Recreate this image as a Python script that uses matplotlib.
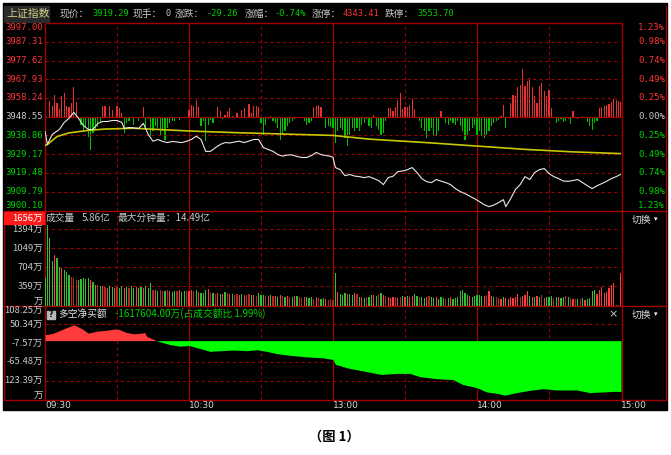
import matplotlib.pyplot as plt
from matplotlib.patches import Rectangle
from matplotlib.transforms import blended_transform_factory

plt.rcParams['font.family'] = ['Noto Sans CJK SC', 'DejaVu Sans']
MONO = ['DejaVu Sans Mono', 'Noto Sans CJK SC']

# 分钟序号: 0 = 09:30, 120 = 11:30/13:00, 240 = 15:00
price_min = [0, 1, 3, 6, 8, 10, 12, 14, 16, 18, 20, 22, 24, 26, 28, 30, 32, 33, 35, 37, 39,
             41, 43, 45, 47, 49, 51, 53, 55, 57, 59, 61, 63, 65, 67, 69, 71, 73, 75, 77, 79,
             81, 83, 85, 87, 89, 91, 93, 95, 97, 99, 101, 103, 105, 107, 109, 111, 113, 115,
             117, 119, 120, 121, 123, 125, 127, 129, 131, 133, 135, 137, 139, 141, 143, 145,
             147, 149, 151, 153, 155, 157, 159, 161, 163, 165, 167, 169, 171, 173, 175, 177,
             179, 181, 183, 185, 187, 189, 191, 192, 194, 196, 198, 200, 202, 204, 206, 208,
             210, 212, 214, 216, 218, 220, 222, 224, 226, 228, 230, 232, 234, 236, 238, 240]
price_val = [3941.1, 3934.2, 3939.4, 3942.0, 3945.6, 3947.7, 3950.8, 3947.7, 3944.0, 3942.0,
             3942.0, 3945.1, 3946.1, 3946.1, 3946.6, 3946.6, 3945.6, 3942.5, 3943.0, 3942.8,
             3942.5, 3945.1, 3939.4, 3935.9, 3936.8, 3935.8, 3935.2, 3935.8, 3935.5, 3935.2,
             3935.9, 3936.8, 3938.5, 3936.8, 3930.6, 3930.7, 3932.6, 3934.2, 3935.2, 3935.0,
             3935.5, 3935.9, 3935.2, 3936.0, 3936.8, 3936.8, 3932.6, 3931.6, 3930.7, 3929.0,
             3928.2, 3928.8, 3928.8, 3928.0, 3927.5, 3927.5, 3928.5, 3930.1, 3929.0, 3928.5,
             3928.1, 3927.5, 3922.3, 3921.2, 3918.1, 3918.7, 3917.9, 3917.6, 3917.1, 3917.6,
             3916.6, 3915.6, 3913.5, 3917.1, 3917.8, 3920.2, 3920.5, 3921.2, 3922.3, 3919.7,
             3916.6, 3915.0, 3914.5, 3916.1, 3915.3, 3914.5, 3913.5, 3911.4, 3909.9, 3908.8,
             3907.5, 3906.2, 3904.7, 3903.1, 3902.1, 3902.9, 3904.2, 3905.7, 3902.1, 3906.2,
             3910.9, 3913.5, 3917.6, 3916.1, 3919.7, 3921.2, 3921.8, 3919.2, 3917.6, 3916.6,
             3915.3, 3915.2, 3915.6, 3916.1, 3914.5, 3912.9, 3911.4, 3912.9, 3914.0, 3915.2,
             3916.6, 3917.6, 3918.9]

avg_min = [0, 1, 5, 10, 18, 25, 37, 45, 60, 80, 100, 120, 135, 160, 180, 200, 220, 240]
avg_val = [3933.7, 3934.2, 3938.3, 3940.2, 3941.5, 3942.2, 3942.6, 3942.1, 3941.2, 3940.3,
           3939.6, 3938.9, 3937.0, 3935.1, 3933.4, 3931.7, 3930.4, 3929.5]

# 红绿柱 (领先指标)
lead = [0, 0, 16, 11, 22, 14, 8, 21, 24, 11, 10, 14, 30, 15, 0, -8, -14, -10, -20, -33,
        -16, -12, -10, -5, 11, 11, 0, 11, 7, 0, 11, 9, 4, -16, -6, -4, -1, -8, -1, -4,
        0, 10, -11, -2, -19, -14, -9, -11, -18, -14, -23, -11, -6, -4, -4, -1, -3, 0, 0, 0,
        7, 12, 11, 17, 10, -9, -4, -24, -8, -3, -6, 0, 10, 6, -2, 2, 6, 9, 1, 0,
        4, 0, 7, 9, 0, 13, 4, 11, 11, 10, -6, -18, -8, -2, 1, -4, -6, -11, -23, -18,
        -14, -9, -6, -4, -2, 0, 0, 0, -4, -8, -6, -4, 10, 11, 12, 10, 0, -11, -9, -10,
        -11, -26, -14, -11, -13, -21, -29, -18, -11, -14, -11, -14, -8, -6, -2, -9, -11, 2, -9, -13,
        -18, -16, -4, 9, 9, 6, 10, 17, 24, 8, 10, 10, 12, 18, 8, 0, -4, -11, -14, -21,
        -14, -11, -18, -19, -14, 6, 0, -6, -8, -4, -6, -8, -4, -9, -14, -23, -18, -14, -11, -8,
        -18, -14, -19, -21, -18, -14, -9, -6, -4, -3, 1, 12, -11, 0, 14, 22, 21, 30, 32, 48,
        31, 36, 39, 30, 21, 14, 31, 34, 26, 21, 27, 9, 0, -6, -4, -2, -5, -4, -2, -7,
        6, 0, -2, -1, 0, 0, -5, -9, -13, -6, -4, 9, 10, 11, 12, 13, 15, 18, 17, 16,
        15]

# 成交量 (万)
volume = [510, 1470, 1240, 830, 940, 880, 720, 690, 660, 630, 560, 540, 510, 480, 480, 500, 520, 500, 520, 480,
          440, 390, 390, 360, 360, 350, 340, 360, 350, 340, 350, 330, 360, 340, 350, 340, 360, 330, 350, 340,
          350, 330, 360, 340, 420, 300, 290, 280, 300, 270, 280, 290, 270, 260, 280, 270, 290, 260, 270, 280,
          270, 290, 280, 300, 260, 250, 240, 300, 310, 250, 240, 230, 240, 220, 230, 260, 240, 220, 230, 210,
          220, 200, 230, 210, 200, 230, 200, 210, 190, 240, 200, 210, 180, 190, 200, 180, 190, 170, 200, 180,
          170, 180, 160, 170, 190, 180, 160, 150, 170, 160, 150, 170, 140, 160, 150, 130, 150, 140, 120, 130,
          110, 600, 266, 230, 210, 240, 230, 220, 210, 240, 230, 160, 170, 150, 160, 170, 200, 210, 190, 220,
          240, 200, 180, 160, 150, 170, 160, 150, 170, 180, 160, 190, 170, 180, 230, 180, 170, 160, 150, 170,
          180, 160, 150, 170, 140, 160, 150, 130, 150, 160, 140, 150, 160, 270, 300, 237, 200, 180, 170, 190,
          200, 210, 190, 180, 210, 270, 180, 160, 170, 150, 140, 160, 150, 140, 170, 150, 160, 220, 170, 180,
          200, 270, 180, 170, 160, 180, 170, 200, 150, 160, 170, 180, 150, 170, 160, 150, 170, 180, 160, 150,
          140, 130, 140, 130, 150, 120, 140, 150, 270, 300, 230, 300, 357, 237, 266, 330, 388, 420, 30, 20,
          600]
vol_color = ("ggggrggrgggdddgggggr" "ggdgrdrggrdggrgdggrg" "grgggdrgddgdrggdrggd"
             "rrdgrgggrdgdrgrgdrgd" "drgrddgrdgggdrgdrgrd" "grdgrgddrgggdrdggrdd"
             "dgrgggrggrdgrgdggrgd" "grdrrrdrdgrgrrggdggr" "dggrgggdgrgggggggrgg"
             "gggrdrrgddrgrrrrrrdr" "rrgrgrgdrgggdgrggdgd" "rdgdgrggggrrrrrrrrdd" "r")

# 多空净买额 (万)
net_min = [0, 3.5, 7, 9, 12, 14, 16, 18, 21.5, 25.7, 29, 31, 34, 37, 40, 41.5, 42.4, 45, 46.5,
           48, 52, 56, 60, 65, 68.75, 73, 78.5, 84, 88.2, 92.4, 96.5, 102, 109, 116, 120, 121,
           126, 133, 140, 146.5, 152, 156.25, 163, 170, 174, 180, 184, 188, 191.7, 196.5, 202,
           207.6, 213.2, 221.5, 227, 232.6, 238, 240]
net_val = [18, 23, 34, 40, 49, 42, 34, 23, 29, 32, 36, 34, 25, 21, 23, 25, 13, 5, 0,
           -4, -12, -17, -15, -25, -33, -31, -29, -31, -28, -33, -40, -45, -50, -53, -58, -73,
           -84, -94, -104, -101, -101, -111, -117, -120, -135, -145, -158, -162, -168, -160, -153,
           -148, -152, -152, -160, -158, -156, -157]

price_ticks = [3997.00, 3987.31, 3977.62, 3967.93, 3958.24, 3948.55,
               3938.86, 3929.17, 3919.48, 3909.79, 3900.10]
pct_labels = ['1.23%', '0.98%', '0.74%', '0.49%', '0.25%', '0.00%',
              '0.25%', '0.49%', '0.74%', '0.98%', '1.23%']
vol_ticks = [1394, 1049, 704, 359]
net_ticks = [108.25, 50.34, -7.57, -65.48, -123.39, -181.30]
net_labels = ['108.25万', '50.34万', '-7.57万', '-65.48万', '123.39万', '万']
time_ticks = [0, 60, 120, 180, 240]
time_labels = ['09:30', '10:30', '13:00', '14:00', '15:00']

RED, GREEN, GRAY = '#ff3434', '#00d000', '#c8c8c8'
FRAME = '#a00000'
DASH = (0, (3, 3))

W, H = 671, 455
fig = plt.figure(figsize=(W / 100, H / 100), dpi=100)
fig.patch.set_facecolor('white')

cv = fig.add_axes([0, 0, 1, 1], zorder=0)
cv.set_xlim(0, W)
cv.set_ylim(H, 0)
cv.axis('off')
cv.add_patch(Rectangle((3, 3), 664, 407, color='black', zorder=0))

L, R = 45, 621
P_TOP, P_BOT, V_BOT, N_BOT = 23, 210.5, 305.5, 399.5


def panel(top, bot, ylim, z=2):
    ax = fig.add_axes([L / W, 1 - bot / H, (R - L) / W, (bot - top) / H], zorder=z)
    ax.set_facecolor('none')
    ax.set_xlim(0, 240)
    ax.set_ylim(*ylim)
    ax.axis('off')
    return ax


def grid(ax, hlines):
    for v in hlines:
        ax.axhline(v, color=FRAME, lw=0.75, ls=DASH, zorder=0)
    for t in [30, 90, 150, 210]:
        ax.axvline(t, color=FRAME, lw=0.75, ls=DASH, zorder=0)
    for t in [60, 120, 180]:
        ax.axvline(t, color=FRAME, lw=0.9, zorder=0)


# 价格面板
ax_lead = panel(P_TOP, P_BOT, (-93.5, 93.5), z=2)
ax_p = panel(P_TOP, P_BOT, (price_ticks[-1], price_ticks[0]), z=3)
grid(ax_lead, [])
for v in price_ticks[1:-1]:
    if v == 3948.55:
        ax_p.axhline(v, color=FRAME, lw=0.9, zorder=0)
    else:
        ax_p.axhline(v, color=FRAME, lw=0.75, ls=DASH, zorder=0)
mins = list(range(241))
ax_lead.bar(mins, lead, width=0.42, color=['#e83030' if v > 0 else '#00c000' for v in lead], zorder=2)
ax_p.plot(avg_min, avg_val, color='#c8c800', lw=1.2, zorder=3)
ax_p.plot(price_min, price_val, color='#e8e8e8', lw=0.8, zorder=4)

# 成交量面板
ax_v = panel(P_BOT, V_BOT, (14, 1739))
grid(ax_v, vol_ticks)
cmap = {'r': '#ff3c3c', 'd': '#b02828', 'g': '#30c030'}
ax_v.bar(mins, volume, width=0.45, color=[cmap[c] for c in vol_color], zorder=2)

# 多空净买额面板
ax_n = panel(V_BOT, N_BOT, (net_ticks[-1], net_ticks[0]))
grid(ax_n, [50.34, -65.48, -123.39])
ax_n.fill_between(net_min, net_val, 0, where=[v >= 0 for v in net_val], interpolate=True,
                  color='#ff3c3c', lw=0, zorder=2)
ax_n.fill_between(net_min, net_val, 0, where=[v <= 0 for v in net_val], interpolate=True,
                  color='#00ff00', lw=0, zorder=2)

# 边框
for y, x0, x1 in [(P_TOP, L, 622), (P_BOT, 3, 667), (V_BOT, 3, 667), (N_BOT, 3, 667)]:
    cv.hlines(y, x0, x1, color=FRAME, lw=1.0, zorder=1)
cv.vlines([L, 622], P_TOP, N_BOT, color=FRAME, lw=1.0, zorder=1)
cv.vlines([3.5], P_BOT, N_BOT, color=FRAME, lw=1.0, zorder=1)
cv.vlines([665.5], 5, N_BOT, color=FRAME, lw=1.0, zorder=1)

# 坐标文字
tp = blended_transform_factory(cv.transData, ax_p.transData)
for i, (v, pl) in enumerate(zip(price_ticks, pct_labels)):
    c = RED if i < 5 else (GRAY if i == 5 else GREEN)
    va = 'top' if i == 0 else ('bottom' if i == len(price_ticks) - 1 else 'center')
    ax_p.text(43, v, f'{v:.2f}', transform=tp, ha='right', va=va, color=c,
              fontsize=6.5, family=MONO)
    ax_p.text(665, v, pl, transform=tp, ha='right', va=va, color=c, fontsize=6.5, family=MONO)

tv = blended_transform_factory(cv.transData, ax_v.transData)
for v in vol_ticks:
    ax_v.text(43, v, f'{v}万', transform=tv, ha='right', va='center', color=GRAY, fontsize=6.8)
ax_v.text(43, 14, '万', transform=tv, ha='right', va='bottom', color=GRAY, fontsize=6.8)

tn = blended_transform_factory(cv.transData, ax_n.transData)
for i, (v, lab) in enumerate(zip(net_ticks, net_labels)):
    va = 'top' if i == 0 else ('bottom' if i == len(net_ticks) - 1 else 'center')
    ax_n.text(43, v, lab, transform=tn, ha='right', va=va, color=GRAY, fontsize=6.8)

tt = blended_transform_factory(ax_n.transData, cv.transData)
for t, lab in zip(time_ticks, time_labels):
    ax_n.text(t, 405.5, lab, transform=tt, ha='left', va='center', color='#d8d8d8',
              fontsize=6.5, family=['DejaVu Sans'])

# 顶部行情
cv.add_patch(Rectangle((4, 6), 45, 16, color='#2a2a2a', zorder=1))
cv.text(6, 14, '上证指数', color='#d0d088', fontsize=7.8, va='center', zorder=2)
header = [(60, '现价：', GRAY), (92, '3919.29', GREEN), (133, '现手：', GRAY), (165, '0', GRAY),
          (175, '涨跌：', GRAY), (207, '-29.26', GREEN), (245, '涨幅：', GRAY),
          (275, '-0.74%', GREEN), (312, '涨停：', GRAY), (343, '4343.41', RED),
          (385, '跌停：', GRAY), (417, '3553.70', GREEN)]
for x, s, c in header:
    if s[0].isdigit() or s[0] == '-':
        cv.text(x, 14, s, color=c, fontsize=6.2, va='center', family=MONO, zorder=2)
    else:
        cv.text(x, 14, s, color=c, fontsize=7, va='center', zorder=2)

# 成交量标题
cv.add_patch(Rectangle((3.5, 211.5), 40, 12, color='#ff1a1a', zorder=1))
cv.text(43, 218, '1656万', color='white', fontsize=6.8, ha='right', va='center', zorder=2)
cv.text(46, 218, '成交量', color=GRAY, fontsize=7, va='center', zorder=2)
cv.text(82, 218, '5.86亿', color=GRAY, fontsize=7, va='center', zorder=2)
cv.text(118, 218, '最大分钟量：14.49亿', color=GRAY, fontsize=7, va='center', zorder=2)

# 净买额标题
cv.add_patch(Rectangle((47, 310.5), 8, 8, color='#b8b8b8', zorder=3))
cv.text(51, 314.5, '?', color='black', fontsize=5.5, ha='center', va='center',
        weight='bold', zorder=4, family=['DejaVu Sans'])
cv.text(58, 314, '多空净买额', color='#e0e0e0', fontsize=7, va='center', zorder=4)
cv.text(115, 314, '-1617604.00万(占成交额比 1.99%)', color=GREEN, fontsize=7, va='center', zorder=4)
cv.text(613, 314, '×', color=GRAY, fontsize=8, ha='center', va='center', zorder=4,
        family=['DejaVu Sans'])

for y in [220, 315]:
    cv.text(632, y, '切换', color='#d8d8d8', fontsize=7, va='center', zorder=2)
    cv.text(654, y - 1, '▾', color='white', fontsize=5, va='center', zorder=2,
            family=['DejaVu Sans'])

cv.text(334, 437, '（图 1）', color='black', fontsize=9.5, ha='center', va='center',
        weight='bold')

fig.savefig('out.png', dpi=100, facecolor='white')
